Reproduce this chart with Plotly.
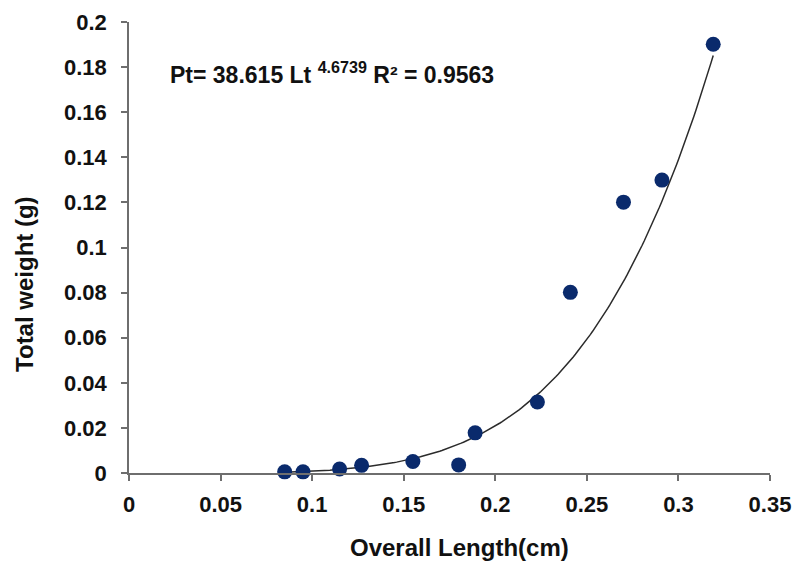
import numpy as np
import plotly.graph_objects as go

# Data
length_cm = [0.085, 0.095, 0.115, 0.127, 0.155, 0.180, 0.189, 0.223, 0.241, 0.270, 0.291, 0.319]
weight_g = [0.0005, 0.0005, 0.0018, 0.0034, 0.0051, 0.0036, 0.0178, 0.0315, 0.0801, 0.1201, 0.1299, 0.1901]

# Power trendline reported on the chart
coef_a = 38.615
coef_b = 4.6739
r2 = 0.9563

x_ticks = [0, 0.05, 0.1, 0.15, 0.2, 0.25, 0.3, 0.35]
y_ticks = [0, 0.02, 0.04, 0.06, 0.08, 0.1, 0.12, 0.14, 0.16, 0.18, 0.2]

x_title = "Overall Length(cm)"
y_title = "Total weight (g)"

fx = np.linspace(min(length_cm), max(length_cm), 200)
fy = coef_a * fx ** coef_b

FONT = "Liberation Sans"
fig = go.Figure()
fig.add_trace(go.Scatter(x=fx, y=fy, mode="lines",
                         line=dict(color="#2b2b2b", width=1.5),
                         hoverinfo="skip", showlegend=False))
fig.add_trace(go.Scatter(x=length_cm, y=weight_g, mode="markers",
                         marker=dict(color="#0a2a6c", size=15),
                         showlegend=False, cliponaxis=False))

axis_common = dict(showgrid=False, zeroline=False, showline=True, automargin=False,
                   linecolor="#6e6e6e", linewidth=1.5, ticks="outside",
                   ticklen=6, tickwidth=1.5, tickcolor="#6e6e6e",
                   tickfont=dict(family=FONT, size=22, color="#111", weight="bold"))

fig.update_xaxes(range=[0, 0.35], tickvals=x_ticks,
                 ticktext=[f"{v:g}" for v in x_ticks],
                 ticklabelstandoff=5, **axis_common)
fig.update_yaxes(range=[0, 0.2], tickvals=y_ticks,
                 ticktext=[f"{v:g}" for v in y_ticks],
                 ticklabelstandoff=10, **axis_common)

title_font = dict(family=FONT, size=24, color="#111", weight="bold")
# plot area: x 129..770, y 22..473 (px of the 796x561 page)
fig.add_annotation(xref="paper", yref="paper", x=0.515, y=-0.166,
                   xanchor="center", yanchor="middle", showarrow=False,
                   text=x_title, font=title_font)
fig.add_annotation(xref="paper", yref="paper", x=-0.164, y=0.419,
                   xanchor="center", yanchor="middle", showarrow=False,
                   textangle=-90, text=y_title, font=title_font)

fig.add_annotation(xref="paper", yref="paper", x=0.061, y=0.887,
                   xanchor="left", yanchor="middle", showarrow=False,
                   text=f"Pt= {coef_a} Lt <sup>{coef_b}</sup> R² = {r2}",
                   font=dict(family=FONT, size=23, color="#111", weight="bold"))

fig.update_layout(width=796, height=561, plot_bgcolor="white", paper_bgcolor="white",
                  margin=dict(l=129, r=26, t=22, b=88), hovermode=False)
fig.write_html("out.html", config={"displayModeBar": False},
               post_script="document.body.style.margin='0';document.body.style.overflow='hidden';")
